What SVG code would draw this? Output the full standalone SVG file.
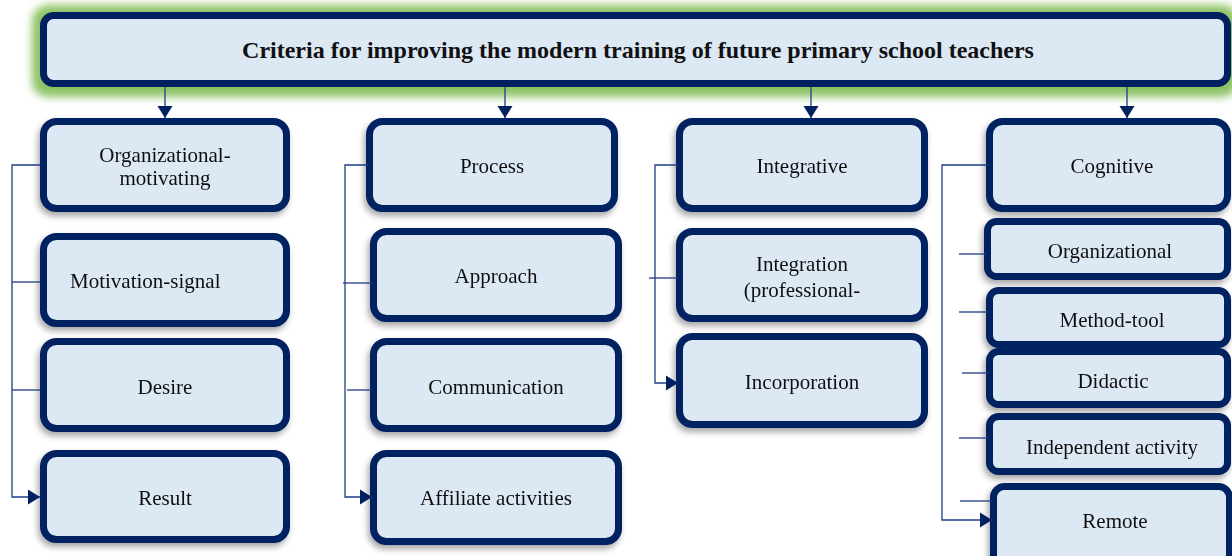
<svg xmlns="http://www.w3.org/2000/svg" width="1232" height="556" viewBox="0 0 1232 556">
  <style>
    .box { fill: #dde8f5; stroke: #012060; stroke-width: 7; }
    .lbl { font-family: "Liberation Serif", "Times New Roman", serif; font-size: 21px; fill: #111; text-anchor: middle; }
    .title { font-family: "Liberation Serif", "Times New Roman", serif; font-size: 24px; font-weight: bold; fill: #111; text-anchor: middle; }
    .con { fill: none; stroke: #1f3c86; stroke-width: 1.3; }
  </style>
  <defs>
    <filter id="shadow" x="-10%" y="-20%" width="120%" height="150%">
      <feDropShadow dx="-2" dy="4" stdDeviation="3" flood-color="#000" flood-opacity="0.35"/>
    </filter>
    <filter id="glow" x="-5%" y="-60%" width="110%" height="220%">
      <feGaussianBlur stdDeviation="4"/>
    </filter>
    <marker id="arr" markerUnits="userSpaceOnUse" markerWidth="16" markerHeight="16" viewBox="0 0 16 16" refX="12" refY="8" orient="auto">
      <path d="M0,0.5 L12,8 L0,15.5 Z" fill="#012060"/>
    </marker>
  </defs>
  <rect width="1232" height="556" fill="#ffffff"/>

  <g id="title">
    <rect x="32" y="5" width="1206" height="92" rx="16" fill="#8cc264" filter="url(#glow)"/>
    <rect class="box" x="43.5" y="15.5" width="1184" height="68" rx="10"/>
    <text class="title" x="638" y="58">Criteria for improving the modern training of future primary school teachers</text>
  </g>

  <g id="col1" filter="url(#shadow)">
    <g id="n-org-mot"><rect class="box" x="43.5" y="121.5" width="243" height="87" rx="13"/>
      <text class="lbl" x="165" y="162">Organizational-</text><text class="lbl" x="165" y="185">motivating</text></g>
    <g id="n-motivation"><rect class="box" x="43.5" y="236.5" width="243" height="87" rx="13"/>
      <text class="lbl" x="70" y="288" style="text-anchor:start">Motivation-signal</text></g>
    <g id="n-desire"><rect class="box" x="43.5" y="341.5" width="243" height="87" rx="13"/>
      <text class="lbl" x="165" y="394">Desire</text></g>
    <g id="n-result"><rect class="box" x="43.5" y="453.5" width="243" height="86" rx="13"/>
      <text class="lbl" x="165" y="505">Result</text></g>
  </g>

  <g id="col2" filter="url(#shadow)">
    <g id="n-process"><rect class="box" x="369.5" y="121.5" width="245" height="87" rx="13"/>
      <text class="lbl" x="492" y="173">Process</text></g>
    <g id="n-approach"><rect class="box" x="373.5" y="231.5" width="245" height="87" rx="13"/>
      <text class="lbl" x="496" y="283">Approach</text></g>
    <g id="n-communication"><rect class="box" x="373.5" y="341.5" width="245" height="87" rx="13"/>
      <text class="lbl" x="496" y="394">Communication</text></g>
    <g id="n-affiliate"><rect class="box" x="373.5" y="453.5" width="245" height="88" rx="13"/>
      <text class="lbl" x="496" y="505">Affiliate activities</text></g>
  </g>

  <g id="col3" filter="url(#shadow)">
    <g id="n-integrative"><rect class="box" x="679.5" y="121.5" width="245" height="87" rx="13"/>
      <text class="lbl" x="802" y="173">Integrative</text></g>
    <g id="n-integration"><rect class="box" x="679.5" y="231.5" width="245" height="87" rx="13"/>
      <text class="lbl" x="802" y="271">Integration</text><text class="lbl" x="802" y="297">(professional-</text></g>
    <g id="n-incorporation"><rect class="box" x="679.5" y="336.5" width="245" height="88" rx="13"/>
      <text class="lbl" x="802" y="389">Incorporation</text></g>
  </g>

  <g id="col4" filter="url(#shadow)">
    <g id="n-cognitive"><rect class="box" x="989.5" y="121.5" width="238" height="87" rx="13"/>
      <text class="lbl" x="1112" y="173">Cognitive</text></g>
    <g id="n-organizational"><rect class="box" x="987.5" y="221.5" width="240" height="55" rx="9"/>
      <text class="lbl" x="1110" y="258">Organizational</text></g>
    <g id="n-method"><rect class="box" x="989.5" y="290.5" width="238" height="54" rx="9"/>
      <text class="lbl" x="1112" y="327">Method-tool</text></g>
    <g id="n-didactic"><rect class="box" x="989.5" y="351.5" width="238" height="53" rx="9"/>
      <text class="lbl" x="1113" y="388">Didactic</text></g>
    <g id="n-independent"><rect class="box" x="989.5" y="416.5" width="238" height="55" rx="9"/>
      <text class="lbl" x="1112" y="454">Independent activity</text></g>
    <g id="n-remote"><rect class="box" x="993.5" y="486.5" width="236" height="80" rx="11"/>
      <text class="lbl" x="1115" y="528">Remote</text></g>
  </g>

  <g id="connectors">
    <path class="con" d="M165,87 V118" marker-end="url(#arr)"/>
    <path class="con" d="M505,87 V118" marker-end="url(#arr)"/>
    <path class="con" d="M811,87 V118" marker-end="url(#arr)"/>
    <path class="con" d="M1127,87 V118" marker-end="url(#arr)"/>

    <path class="con" d="M40,165 H12 V497 H40" marker-end="url(#arr)"/>
    <path class="con" d="M12,282 H40"/>
    <path class="con" d="M12,390 H40"/>

    <path class="con" d="M368,165 H345 V497 H372" marker-end="url(#arr)"/>
    <path class="con" d="M343,283 H372"/>
    <path class="con" d="M347,390 H372"/>

    <path class="con" d="M678,165 H655 V383 H678" marker-end="url(#arr)"/>
    <path class="con" d="M649,278 H678"/>

    <path class="con" d="M988,165 H942 V520 H992" marker-end="url(#arr)"/>
    <path class="con" d="M959,254 H986"/>
    <path class="con" d="M959,312 H988"/>
    <path class="con" d="M962,373 H988"/>
    <path class="con" d="M959,438 H988"/>
    <path class="con" d="M960,501 H992"/>
  </g>
</svg>
